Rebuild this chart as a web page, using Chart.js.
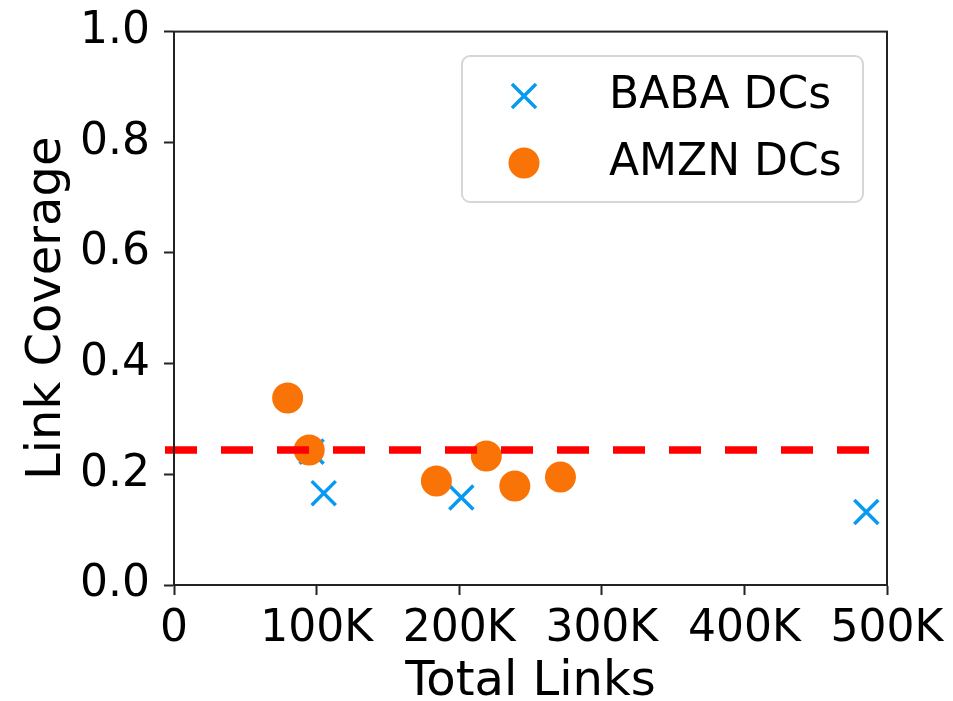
<!DOCTYPE html>
<html>
<head>
<meta charset="utf-8">
<script src="https://cdn.jsdelivr.net/npm/chart.js@4.4.1/dist/chart.umd.min.js"></script>
<style>
  html, body { margin: 0; padding: 0; background: #fff; }
  #wrap { width: 953px; height: 701px; }
</style>
</head>
<body>
<div id="wrap"><canvas id="chart" width="953" height="701"></canvas></div>
<script>
    'use strict';

    // values
    var babaLinks = [96500, 105000, 201500, 485500];
    var babaCoverage = [0.241, 0.166, 0.158, 0.132];
    var amznLinks = [79700, 94800, 184000, 219000, 239000, 271000];
    var amznCoverage = [0.338, 0.244, 0.188, 0.233, 0.179, 0.195];
    var thresholdLinks = [-6300, 487700];
    var thresholdCoverage = [0.244, 0.244];
    var xTicks = [0, 100000, 200000, 300000, 400000, 500000];
    var yTicks = [0, 0.2, 0.4, 0.6, 0.8, 1.0];
    var seriesNames = ['BABA DCs', 'AMZN DCs'];

    var BLUE = '#069AF3';
    var ORANGE = '#F97306';
    var AXIS = '#222222';
    var FONT = 'DejaVu Sans';

    function toPoints(xs, ys) {
        return xs.map(function (x, i) { return { x: x, y: ys[i] }; });
    }

    // full box around plot area (matplotlib spines)
    var frame = {
        id: 'frame',
        afterDatasetsDraw: function (chart) {
            var a = chart.chartArea, ctx = chart.ctx;
            ctx.save();
            ctx.strokeStyle = AXIS;
            ctx.lineWidth = 2;
            ctx.strokeRect(a.left, a.top, a.right - a.left, a.bottom - a.top);
            ctx.restore();
        }
    };

    // legend box inside the axes, upper right
    var boxLegend = {
        id: 'boxLegend',
        afterDraw: function (chart) {
            var ctx = chart.ctx;
            var x = 462, y = 56, w = 401, h = 146, r = 8;
            ctx.save();
            ctx.fillStyle = 'rgba(255,255,255,0.8)';
            ctx.strokeStyle = '#d6d6d6';
            ctx.lineWidth = 2;
            ctx.beginPath();
            ctx.roundRect(x, y, w, h, r);
            ctx.fill();
            ctx.stroke();

            var rows = [
                { y: 96, style: 'crossRot', radius: 17, color: BLUE, bw: 3.5 },
                { y: 163, style: 'circle', radius: 15.5, color: ORANGE, bw: 0 }
            ];
            rows.forEach(function (row, i) {
                ctx.strokeStyle = row.color;
                ctx.fillStyle = row.color;
                ctx.lineWidth = row.bw;
                Chart.helpers.drawPoint(ctx, { pointStyle: row.style, radius: row.radius, borderWidth: row.bw }, 524, row.y);
                ctx.fillStyle = '#000';
                ctx.font = '44px "' + FONT + '"';
                ctx.textBaseline = 'middle';
                ctx.textAlign = 'left';
                ctx.fillText(seriesNames[i], 609, row.y + 1);
            });
            ctx.restore();
        }
    };

    var ctx = document.getElementById('chart').getContext('2d');

    new Chart(ctx, {
        type: 'scatter',
        data: {
            datasets: [
                {
                    type: 'line',
                    label: 'threshold',
                    data: toPoints(thresholdLinks, thresholdCoverage),
                    borderColor: '#FF0000',
                    borderWidth: 7.5,
                    borderDash: [32, 24],
                    borderCapStyle: 'butt',
                    pointRadius: 0,
                    fill: false,
                    clip: false,
                    order: 0
                },
                {
                    label: seriesNames[1],
                    data: toPoints(amznLinks, amznCoverage),
                    pointStyle: 'circle',
                    pointRadius: 15.5,
                    pointBackgroundColor: ORANGE,
                    pointBorderWidth: 0,
                    order: 1
                },
                {
                    label: seriesNames[0],
                    data: toPoints(babaLinks, babaCoverage),
                    pointStyle: 'crossRot',
                    pointRadius: 17,
                    pointBorderColor: BLUE,
                    pointBorderWidth: 3.5,
                    order: 2
                }
            ]
        },
        options: {
            responsive: false,
            animation: false,
            events: [],
            layout: { padding: { top: 31, right: 66, left: 0, bottom: 0 } },
            plugins: {
                legend: { display: false },
                tooltip: { enabled: false }
            },
            scales: {
                x: {
                    type: 'linear',
                    min: 0,
                    max: 500000,
                    afterBuildTicks: function (axis) {
                        axis.ticks = xTicks.map(function (v) { return { value: v }; });
                    },
                    afterFit: function (axis) { axis.height = 116; },
                    border: { display: true, color: AXIS, width: 2 },
                    grid: { drawOnChartArea: false, drawTicks: true, tickLength: 10, tickWidth: 2, tickColor: AXIS },
                    ticks: {
                        color: '#000',
                        padding: 8,
                        maxRotation: 0,
                        font: { family: FONT, size: 44 },
                        callback: function (v) { return v === 0 ? '0' : (v / 1000) + 'K'; }
                    },
                    title: {
                        display: true,
                        text: 'Total Links',
                        color: '#000',
                        font: { family: FONT, size: 48, lineHeight: 0.75 },
                        padding: { top: 0, bottom: 0 }
                    }
                },
                y: {
                    type: 'linear',
                    min: 0,
                    max: 1,
                    afterBuildTicks: function (axis) {
                        axis.ticks = yTicks.map(function (v) { return { value: v }; });
                    },
                    afterFit: function (axis) { axis.width = 174; },
                    border: { display: true, color: AXIS, width: 2 },
                    grid: { drawOnChartArea: false, drawTicks: true, tickLength: 10, tickWidth: 2, tickColor: AXIS },
                    ticks: {
                        color: '#000',
                        padding: 14,
                        font: { family: FONT, size: 44, lineHeight: 0.8 },
                        callback: function (v) { return v.toFixed(1); }
                    },
                    title: {
                        display: true,
                        text: 'Link Coverage',
                        color: '#000',
                        font: { family: FONT, size: 48 },
                        padding: { top: 19, bottom: 0 }
                    }
                }
            }
        },
        plugins: [frame, boxLegend]
    });
</script>
</body>
</html>
